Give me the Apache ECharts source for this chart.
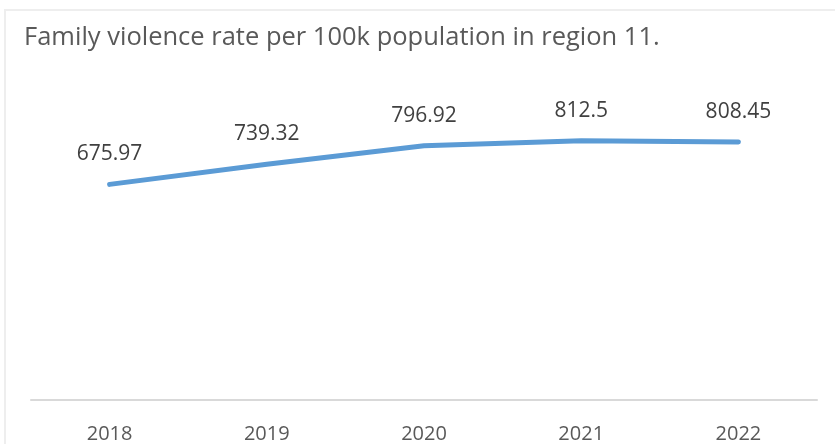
<!DOCTYPE html>
<html>
<head>
<meta charset="utf-8">
<script src="https://cdn.jsdelivr.net/npm/echarts@6/dist/echarts.min.js"></script>
<style>
html,body{margin:0;padding:0;background:#fff;}
#chart{width:835px;height:444px;}
</style>
</head>
<body>
<div id="chart"></div>
<script>
const titleText = 'Family violence rate per 100k population in region 11.';
const years = ['2018', '2019', '2020', '2021', '2022'];
const rates = [675.97, 739.32, 796.92, 812.5, 808.45];

const chart = echarts.init(document.getElementById('chart'), null, {renderer: 'canvas'});
const font = '"Open Sans", "Noto Sans", sans-serif';
chart.setOption({
  backgroundColor: '#ffffff',
  animation: false,
  graphic: [{
    type: 'rect',
    shape: {x: 5, y: 10, width: 900, height: 500},
    style: {fill: 'none', stroke: '#eeeeee', lineWidth: 2},
    silent: true,
    z: 0
  }],
  title: {
    text: titleText,
    left: 19,
    top: 20,
    textStyle: {fontFamily: font, fontSize: 25.5, fontWeight: 'normal', color: '#595959'}
  },
  grid: {left: 31, right: 18, top: 81, bottom: 40, containLabel: false},
  xAxis: {
    type: 'category',
    data: years,
    boundaryGap: true,
    axisLine: {show: true, lineStyle: {color: '#d9d9d9', width: 2}},
    axisTick: {show: false},
    axisLabel: {fontFamily: font, fontSize: 20, color: '#595959', margin: 24}
  },
  yAxis: {
    type: 'value',
    min: 0,
    max: 1000,
    show: false,
    splitLine: {show: false}
  },
  series: [{
    type: 'line',
    data: rates,
    symbol: 'circle',
    symbolSize: 1,
    showSymbol: true,
    lineStyle: {color: '#5b9bd5', width: 5, cap: 'round', join: 'round'},
    itemStyle: {color: '#5b9bd5'},
    label: {
      show: true,
      position: 'top',
      distance: 19,
      fontFamily: font,
      fontSize: 21,
      color: '#404040'
    }
  }]
});
</script>
</body>
</html>
